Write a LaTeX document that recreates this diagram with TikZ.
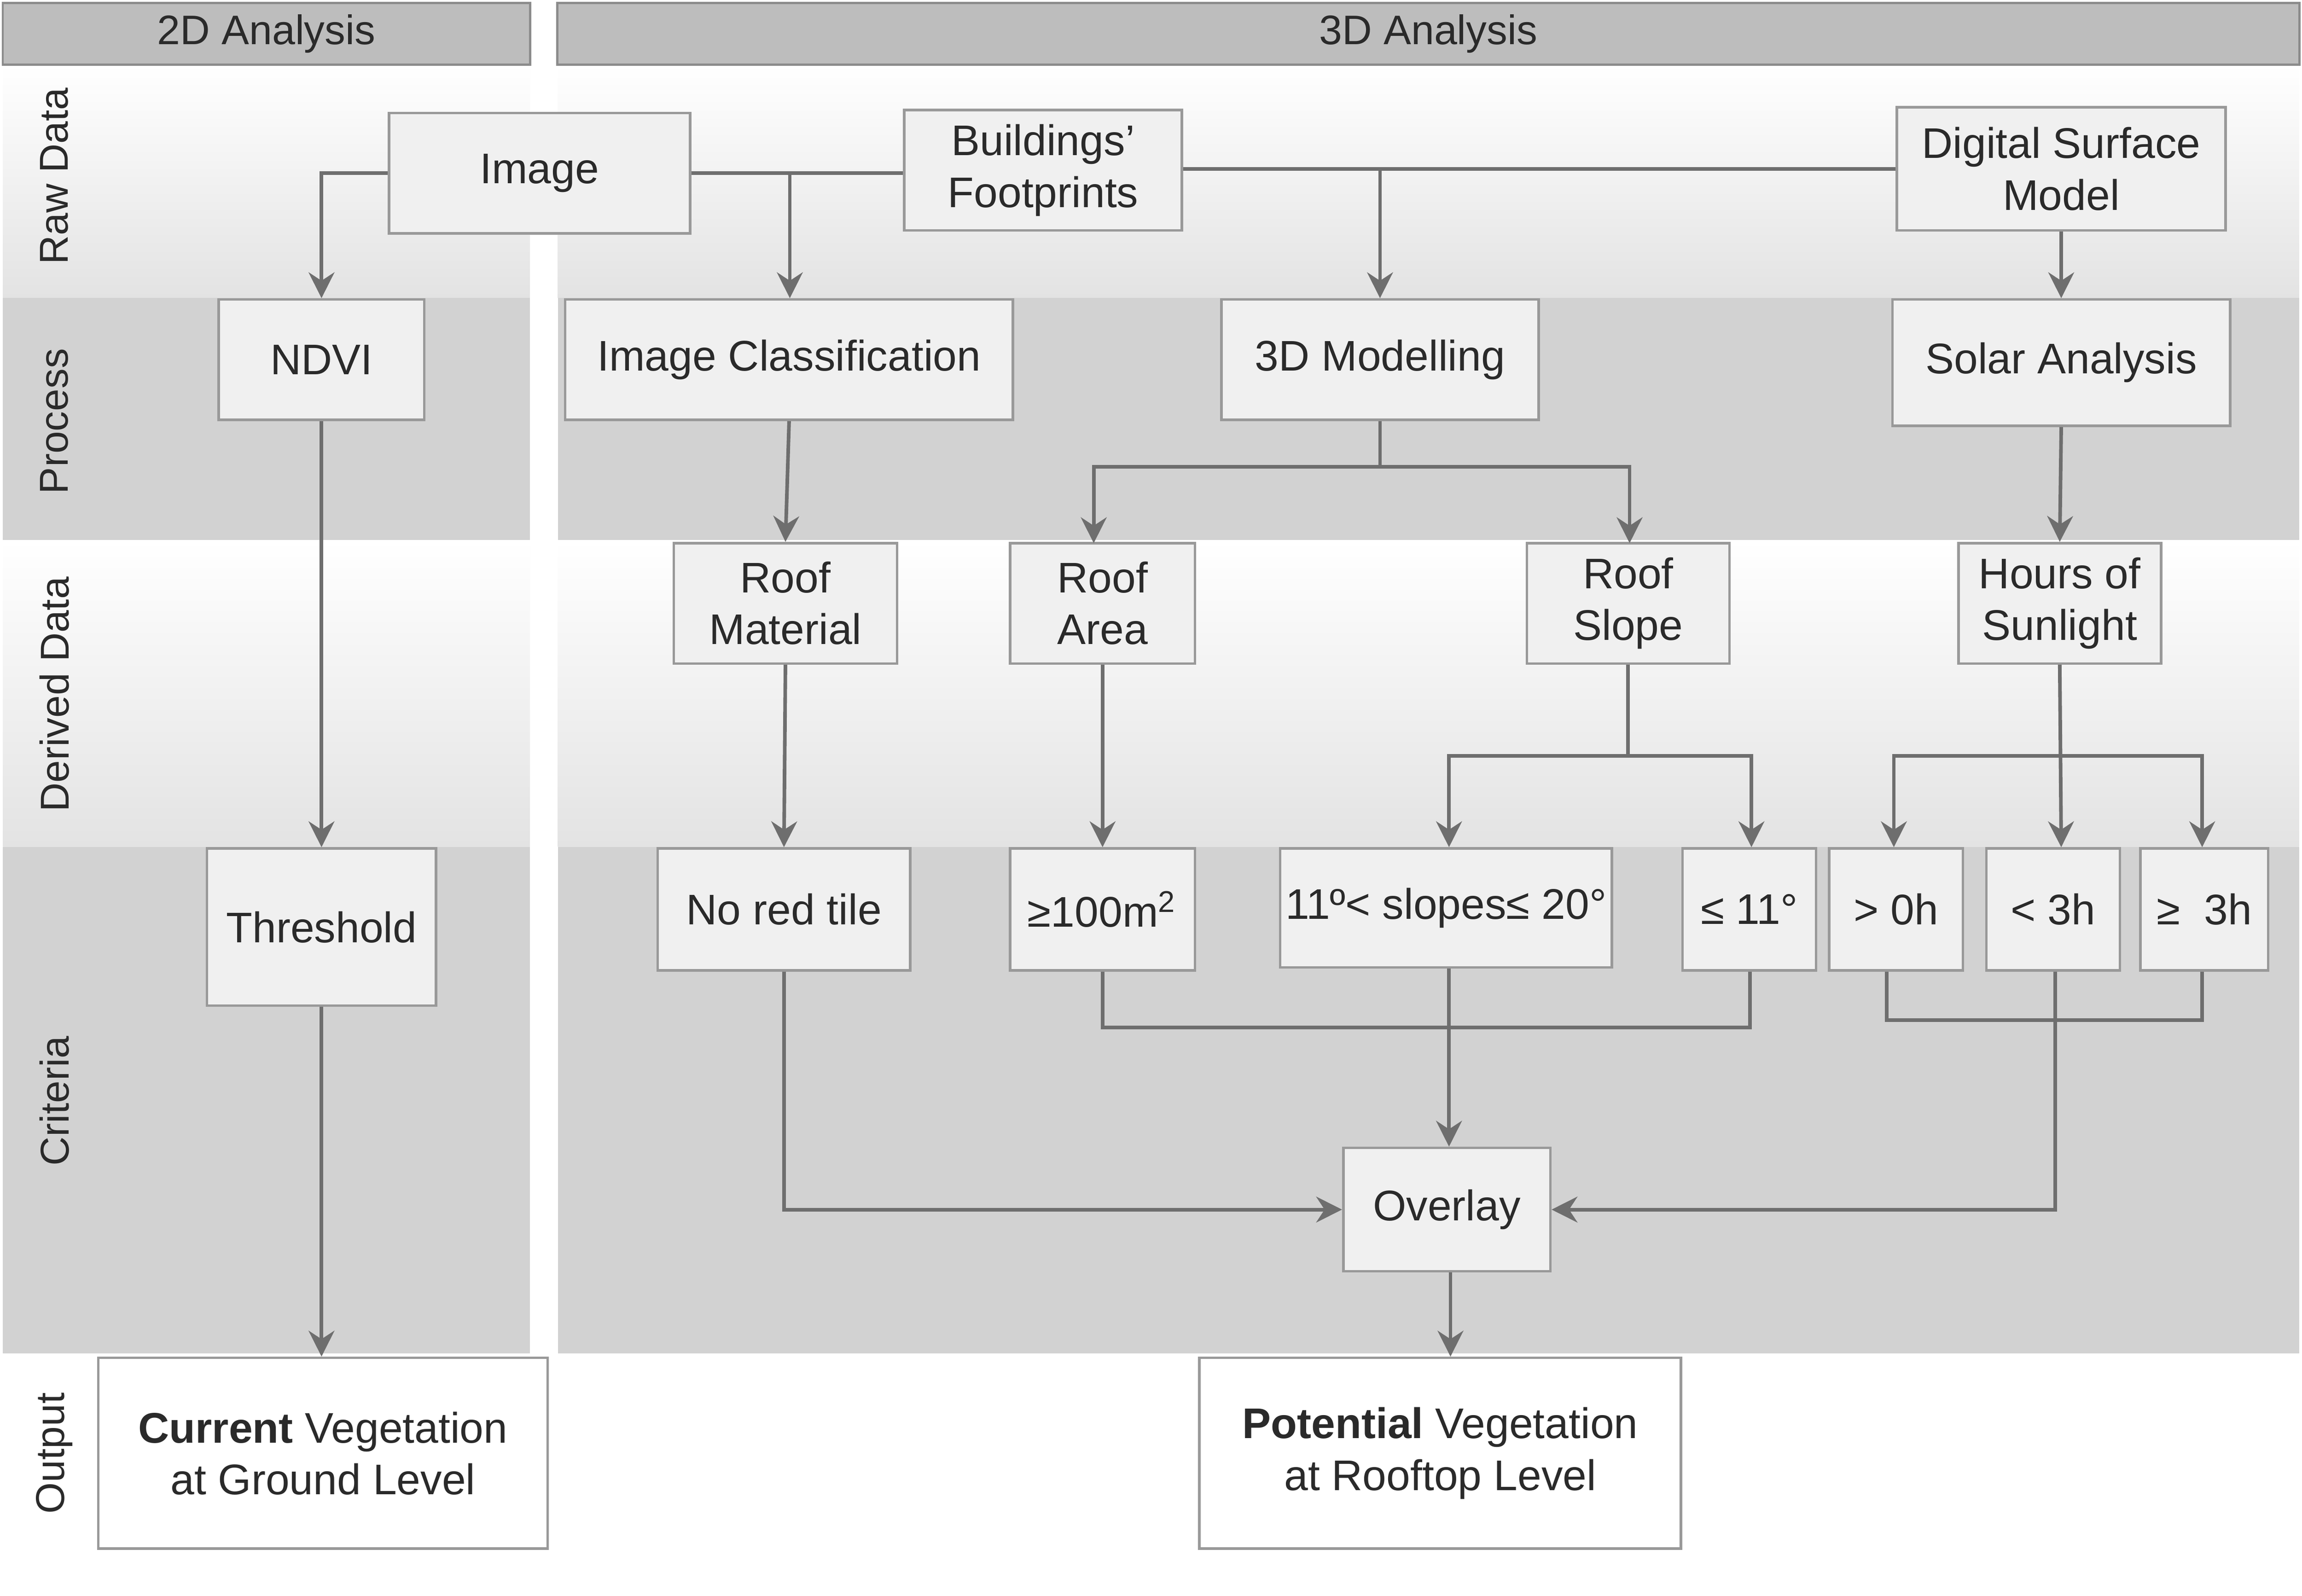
\documentclass[tikz,border=0pt]{standalone}
\usepackage{fontspec}
\setmainfont{Liberation Sans}
\usetikzlibrary{arrows.meta}
\definecolor{band}{HTML}{D2D2D2}
\definecolor{hdr}{HTML}{BDBDBD}
\definecolor{ln}{HTML}{6E6E6E}
\definecolor{bx}{HTML}{F0F0F0}
\definecolor{txt}{HTML}{2A2A2A}
\begin{document}
\begin{tikzpicture}[x=0.01cm,y=-0.01cm,
 box/.style={draw=ln!70,fill=bx,line width=0.5pt,text=txt,align=center,font=\fontsize{8.3}{10}\selectfont,inner sep=0pt},
 obox/.style={draw=ln!70,fill=white,line width=0.5pt,text=txt,align=center,font=\fontsize{8.3}{10}\selectfont,inner sep=0pt},
 con/.style={draw=ln,line width=0.7pt},
 arr/.style={con,-{Stealth[length=5pt,width=5pt]}},
 rowlab/.style={rotate=90,font=\fontsize{7.8}{9}\selectfont,text=txt},
 hd/.style={draw=ln!80,fill=hdr,font=\fontsize{8}{9}\selectfont,text=txt,inner sep=0pt}]
\useasboundingbox (0,0) rectangle (1568,1087);
\fill[white] (0,0) rectangle (1568,1087);
% bands
\foreach \xa/\xb in {2/361,380/1566}{
 \shade[top color=white,bottom color=gray!22] (\xa,44) rectangle (\xb,203);
 \fill[band] (\xa,203) rectangle (\xb,368);
 \shade[top color=white,bottom color=gray!22] (\xa,368) rectangle (\xb,577);
 \fill[band] (\xa,577) rectangle (\xb,922);
}
\node[hd,minimum width=3.59cm,minimum height=0.42cm] (h2) at (181.5,23) {2D Analysis};
\node[hd,minimum width=11.86cm,minimum height=0.42cm] (h3) at (973,23) {3D Analysis};
\node[rowlab] (r1) at (37,120) {Raw Data};
\node[rowlab] (r2) at (37,287) {Process};
\node[rowlab] (r3) at (37,473) {Derived Data};
\node[rowlab] (r4) at (37,750) {Criteria};
\node[rowlab] (r5) at (37,990) {Output};
% nodes
\newcommand{\bnode}[6]{\node[#1,minimum width={(#4-#3)*0.01cm},minimum height={(#6-#5)*0.01cm}] (#2) at ({(#3+#4)/2},{(#5+#6)/2})}
\bnode{box}{img}{265}{470}{77}{159} {Image};
\bnode{box}{bf}{616}{805}{75}{157} {Buildings'\\Footprints};
\bnode{box}{dsm}{1292}{1516}{73}{157} {Digital Surface\\Model};
\bnode{box}{ndvi}{149}{289}{204}{286} {NDVI};
\bnode{box}{ic}{385}{690}{204}{286} {Image Classification};
\bnode{box}{tdm}{832}{1048}{204}{286} {3D Modelling};
\bnode{box}{sol}{1289}{1519}{204}{290} {Solar Analysis};
\bnode{box}{rm}{459}{611}{370}{452} {Roof\\Material};
\bnode{box}{ra}{688}{814}{370}{452} {Roof\\Area};
\bnode{box}{rs}{1040}{1178}{370}{452} {Roof\\Slope};
\bnode{box}{hs}{1334}{1472}{370}{452} {Hours of\\Sunlight};
\bnode{box}{thr}{141}{297}{578}{685} {Threshold};
\bnode{box}{nrt}{448}{620}{578}{661} {No red tile};
\bnode{box}{a100}{688}{814}{578}{661} {≥100m\textsuperscript{2}};
\bnode{box}{sl}{872}{1098}{578}{659} {11º< slopes≤ 20°};
\bnode{box}{s11}{1146}{1237}{578}{661} {≤ 11°};
\bnode{box}{h0}{1246}{1337}{578}{661} {> 0h};
\bnode{box}{h3}{1353}{1444}{578}{661} {< 3h};
\bnode{box}{h3b}{1458}{1545}{578}{661} {≥\ \ 3h};
\bnode{box}{ov}{915}{1056}{782}{866} {Overlay};
\bnode{obox}{cur}{67}{373}{925}{1055} {\textbf{Current} Vegetation\\at Ground Level};
\bnode{obox}{pot}{817}{1145}{925}{1055} {\textbf{Potential} Vegetation\\at Rooftop Level};
% connectors
\draw[arr] (img.west) -| (ndvi.north);
\draw[con] (img.east |- 0,118) -- (bf.west |- 0,118);
\coordinate (j1) at (538,118);
\draw[arr] (j1) -- (ic.north -| j1);
\draw[con] (bf.east |- 0,115) -- (dsm.west |- 0,115);
\coordinate (j2) at (940,115);
\draw[arr] (j2) -- (tdm.north);
\draw[arr] (dsm.south) -- (sol.north);
\draw[arr] (ndvi.south) -- (thr.north);
\draw[arr] (ic.south) -- (rm.north);
\coordinate (j3) at (940,318);
\draw[con] (tdm.south) -- (j3);
\draw[arr] (j3) -| (745,370);
\draw[arr] (j3) -| (1110,370);
\draw[arr] (sol.south) -- (hs.north);
\draw[arr] (rm.south) -- (nrt.north);
\draw[arr] (ra.south) -- (a100.north);
\coordinate (j4) at (1109,515);
\draw[con] (rs.south) -- (j4);
\draw[arr] (j4) -| (sl.north -| 987,0);
\draw[arr] (j4) -| (s11.north -| 1193,0);
\coordinate (j5) at (1404,515);
\draw[arr] (hs.south) -- (h3.north -| j5);
\draw[arr] (j5) -| (h0.north -| 1290,0);
\draw[arr] (j5) -| (h3b.north -| 1500,0);
\draw[con] (a100.south) |- (1192,700) -- (s11.south -| 1192,0);
\draw[arr] (sl.south -| 987,0) -- (ov.north -| 987,0);
\draw[con] (h0.south -| 1285,0) |- (1500,695) -- (h3b.south -| 1500,0);
\draw[arr] (h3.south -| 1400,0) |- (ov.east);
\draw[arr] (nrt.south) |- (ov.west);
\draw[arr] (ov.south -| 988,0) -- (pot.north -| 988,0);
\draw[arr] (thr.south) -- (cur.north -| thr.south);
\end{tikzpicture}
\end{document}
